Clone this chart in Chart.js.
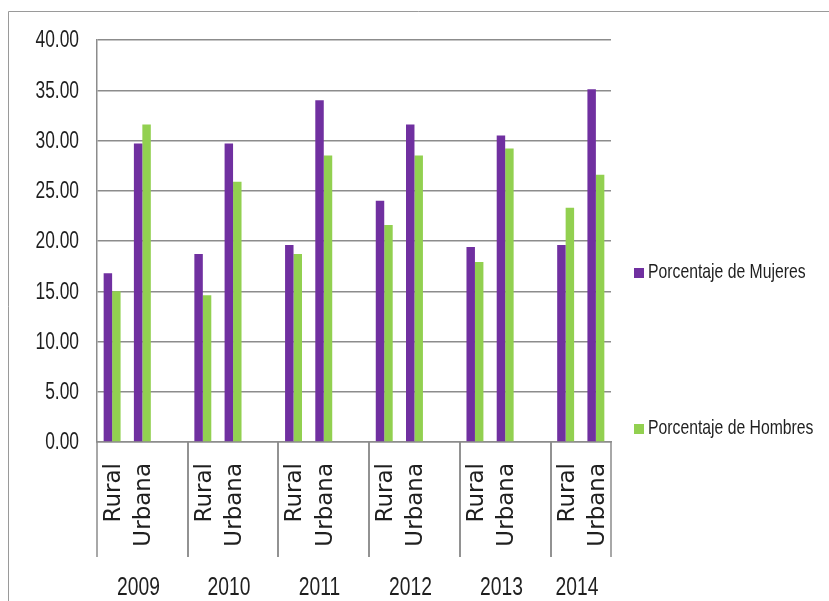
<!DOCTYPE html>
<html>
<head>
<meta charset="utf-8">
<script src="https://cdn.jsdelivr.net/npm/chart.js@4"></script>
<style>
  html, body { margin: 0; padding: 0; background: #fff; overflow: hidden; }
  canvas { display: block; }
</style>
</head>
<body>
<canvas id="chart" width="829" height="601"></canvas>
<script>
// Datos del gráfico (una casilla vacía separa cada año)
const categories = ['Rural', 'Urbana', '', 'Rural', 'Urbana', '', 'Rural', 'Urbana', '',
                    'Rural', 'Urbana', '', 'Rural', 'Urbana', '', 'Rural', 'Urbana'];
const years = ['2009', '2010', '2011', '2012', '2013', '2014'];
const mujeres = [16.8, 29.7, null, 18.7, 29.7, null, 19.6, 34.0, null,
                 24.0, 31.6, null, 19.4, 30.5, null, 19.6, 35.1];
const hombres = [15.0, 31.6, null, 14.6, 25.9, null, 18.7, 28.5, null,
                 21.6, 28.5, null, 17.9, 29.2, null, 23.3, 26.6];
const yMax = 40;
const yStep = 5;

const sans = '"Liberation Sans", Arial, sans-serif';
const gridColor = '#8c8c8c';
const textColor = '#1f1f1f';

// texto estrecho (tipo Calibri) comprimiendo en horizontal
function narrowText(ctx, text, x, y, align, size, sx) {
    ctx.save();
    ctx.translate(x, y);
    ctx.scale(sx, 1);
    ctx.font = size + 'px ' + sans;
    ctx.textAlign = align;
    ctx.textBaseline = 'middle';
    ctx.fillText(text, 0, 0);
    ctx.restore();
}

// Etiquetas de ejes, años, separadores y leyenda
const axisPlugin = {
    id: 'axisPlugin',
    afterDraw(chart) {
        const ctx = chart.ctx;
        const x = chart.scales.x;
        const yScale = chart.scales.y;
        const area = chart.chartArea;
        const step = x.getPixelForValue(1) - x.getPixelForValue(0);

        // marco exterior
        ctx.save();
        ctx.strokeStyle = '#9a9a9a';
        ctx.lineWidth = 1;
        ctx.beginPath();
        ctx.moveTo(8.5, 601);
        ctx.lineTo(8.5, 11.5);
        ctx.lineTo(829, 11.5);
        ctx.stroke();

        ctx.fillStyle = textColor;

        // etiquetas del eje y
        yScale.ticks.forEach(t => {
            narrowText(ctx, t.value.toFixed(2), 79, yScale.getPixelForValue(t.value) + 1, 'right', 23.5, 0.74);
        });

        // etiquetas giradas
        ctx.font = '23px "DejaVu Sans", sans-serif';
        ctx.textAlign = 'right';
        ctx.textBaseline = 'middle';
        categories.forEach((c, i) => {
            if (!c) return;
            ctx.save();
            ctx.translate(x.getPixelForValue(i) + 2, area.bottom + 21);
            ctx.rotate(-Math.PI / 2);
            ctx.fillText(c, 0, 0);
            ctx.restore();
        });

        // separadores y años
        ctx.strokeStyle = gridColor;
        ctx.lineWidth = 1.5;
        years.forEach((y, g) => {
            const start = g * 3;
            const end = Math.min(start + 3, categories.length);
            const left = Math.round(x.getPixelForValue(start) - step / 2);
            const right = Math.round(x.getPixelForValue(end - 1) + step / 2);
            ctx.beginPath();
            ctx.moveTo(left, area.bottom);
            ctx.lineTo(left, area.bottom + 115);
            ctx.moveTo(right, area.bottom);
            ctx.lineTo(right, area.bottom + 115);
            ctx.stroke();
            narrowText(ctx, y, (left + right) / 2 - 4, area.bottom + 146, 'center', 26, 0.74);
        });

        // leyenda
        const legendY = [272, 428];
        chart.data.datasets.forEach((ds, i) => {
            ctx.fillStyle = ds.backgroundColor;
            ctx.fillRect(634, legendY[i] - 4, 10, 10);
            ctx.fillStyle = textColor;
            narrowText(ctx, ds.label, 648, legendY[i], 'left', 21, 0.75);
        });
        ctx.restore();
    }
};

const ctx = document.getElementById('chart').getContext('2d');
const chart = new Chart(ctx, {
    type: 'bar',
    data: {
        labels: categories,
        datasets: [
            {
                label: 'Porcentaje de Mujeres',
                data: mujeres,
                backgroundColor: '#7030A0'
            },
            {
                label: 'Porcentaje de Hombres',
                data: hombres,
                backgroundColor: '#92D050'
            }
        ]
    },
    options: {
        responsive: false,
        animation: false,
        devicePixelRatio: 1,
        layout: {
            padding: { left: 0, top: 40, right: 218, bottom: 159 }
        },
        datasets: {
            bar: { categoryPercentage: 0.56, barPercentage: 1 }
        },
        plugins: {
            legend: { display: false },
            tooltip: { enabled: false }
        },
        scales: {
            x: {
                grid: { display: false },
                ticks: { display: false },
                border: { color: gridColor, width: 1.5 },
                afterFit(s) { s.height = 0; }
            },
            y: {
                min: 0,
                max: yMax,
                ticks: {
                    stepSize: yStep,
                    display: false
                },
                grid: { color: gridColor, lineWidth: 1.5, drawTicks: false },
                border: { color: gridColor, width: 1.5 },
                afterFit(s) { s.width = 97; }
            }
        }
    },
    plugins: [axisPlugin]
});
</script>
</body>
</html>
